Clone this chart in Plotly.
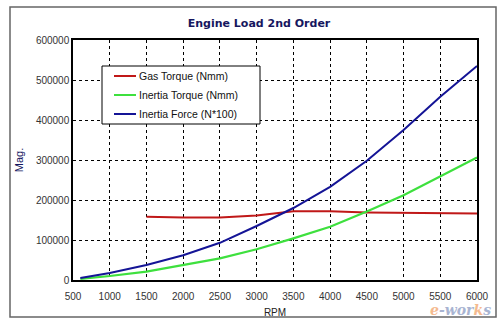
import plotly.graph_objects as go

# Engine speed (RPM) sample points
rpm = [600, 1000, 1500, 2000, 2500, 3000, 3500, 4000, 4500, 5000, 5500, 6000]
gas_rpm = [1500, 2000, 2500, 2750, 3000, 3500, 4000, 4500, 5000, 5500, 6000]

# 2nd-order magnitudes
gas_torque = [158000, 156000, 156000, 158000, 161000, 172000, 172000, 169000, 168000, 166000, 166000]
inertia_torque = [3000, 10000, 21000, 37500, 54000, 77000, 104000, 133000, 171000, 212000, 258000, 306000]
inertia_force = [5000, 17500, 37500, 62000, 93000, 135000, 180000, 233000, 298000, 375000, 458000, 535000]

series_names = ["Gas Torque (Nmm)", "Inertia Torque (Nmm)", "Inertia Force (N*100)"]
series_colors = ["#c01818", "#3ee03e", "#141496"]

x_ticks = [500, 1000, 1500, 2000, 2500, 3000, 3500, 4000, 4500, 5000, 5500, 6000]
y_ticks = [0, 100000, 200000, 300000, 400000, 500000, 600000]

FONT = "Liberation Sans"
NAVY = "#16165e"

fig = go.Figure()
for xs, ys, name, color, w in zip([gas_rpm, rpm, rpm],
                                  [gas_torque, inertia_torque, inertia_force],
                                  series_names, series_colors, [2, 2.2, 2]):
    fig.add_trace(go.Scatter(x=xs, y=ys, mode="lines", name=name,
                             line=dict(color=color, width=w), showlegend=False))

L, R, T, B = 73, 23, 40, 46
W, H = 500, 326
pw, ph = W - L - R, H - T - B

def px(x):
    return (x - L) / pw

def py(y):
    return (H - B - y) / ph

fig.update_layout(
    width=W, height=H,
    margin=dict(l=L, r=R, t=T, b=B),
    paper_bgcolor="white", plot_bgcolor="white",
    font=dict(family=FONT, size=10, color="#222"),
    title=dict(text="<b>Engine Load 2nd Order</b>", x=259 / W, xanchor="center",
               y=1 - 23 / H, yanchor="middle",
               font=dict(family="DejaVu Sans", size=11, color=NAVY)),
    xaxis=dict(range=[500, 6000], tickvals=x_ticks, ticktext=[str(v) for v in x_ticks],
               showgrid=True, gridcolor="#000", griddash="dot", gridwidth=1,
               showline=True, linecolor="#000", linewidth=1.5, mirror=True,
               ticks="", zeroline=False, ticklabelstandoff=6, automargin=False,
               title=dict(text="RPM", font=dict(family=FONT, size=10, color="#222"), standoff=8),
               tickfont=dict(family=FONT, size=10, color="#333")),
    yaxis=dict(range=[0, 600000], tickvals=y_ticks, ticktext=[str(v) for v in y_ticks],
               showgrid=True, gridcolor="#000", griddash="dot", gridwidth=1,
               showline=True, linecolor="#000", linewidth=1.5, mirror=True,
               ticks="", zeroline=False, automargin=False,
               title=dict(text="Mag.", font=dict(family=FONT, size=11, color=NAVY), standoff=10),
               tickfont=dict(family=FONT, size=10, color="#333")),
    showlegend=False,
)

# Outer chart frame
fig.add_shape(type="rect", xref="paper", yref="paper",
              x0=px(10), x1=px(496), y0=py(317), y1=py(7),
              line=dict(color="#666", width=1.5), layer="below")

# Legend box with line samples
fig.add_shape(type="rect", xref="paper", yref="paper",
              x0=px(102), x1=px(260), y0=py(124), y1=py(66),
              line=dict(color="#000", width=1), fillcolor="white", layer="above")
for i, (name, color) in enumerate(zip(series_names, series_colors)):
    yc = 76 + i * 19
    fig.add_shape(type="line", xref="paper", yref="paper",
                  x0=px(114), x1=px(136), y0=py(yc), y1=py(yc),
                  line=dict(color=color, width=2), layer="above")
    fig.add_annotation(xref="paper", yref="paper", x=px(137), y=py(yc),
                       xanchor="left", yanchor="middle", text=name, showarrow=False,
                       font=dict(family=FONT, size=10.5, color="#111"))

# Publisher mark
fig.add_annotation(xref="paper", yref="paper", x=px(493), y=py(310), xanchor="right", yanchor="middle",
                   text="<i><b><span style='color:#f2a46a'>e</span>-wor<span style='color:#f2a46a'>k</span>s</b></i>",
                   showarrow=False, font=dict(family="DejaVu Serif", size=14, color="#8c9cc4"),
                   opacity=0.75)

fig.write_html("out.html")
